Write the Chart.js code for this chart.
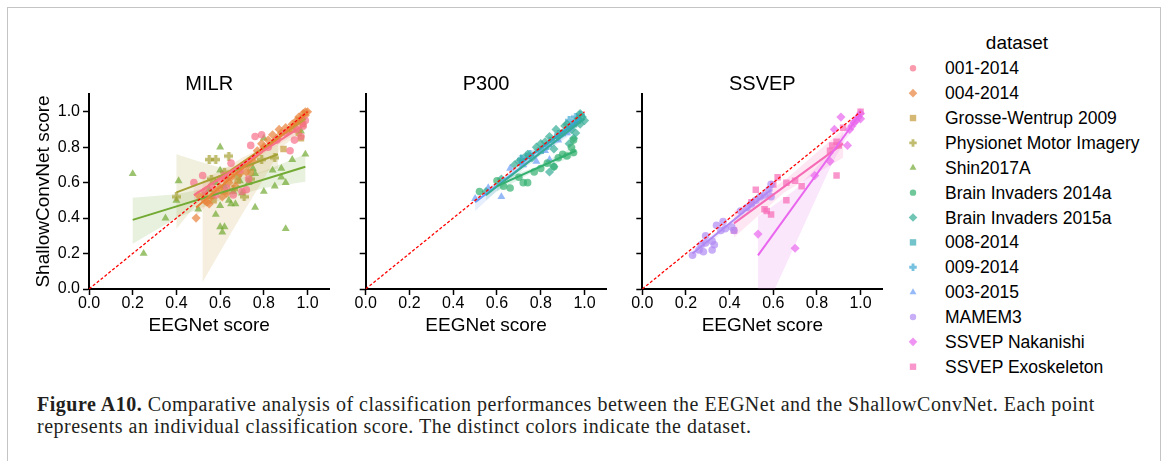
<!DOCTYPE html>
<html>
<head>
<meta charset="utf-8">
<script src="https://cdn.jsdelivr.net/npm/chart.js@4/dist/chart.umd.min.js"></script>
<style>
  html,body{margin:0;padding:0;background:#fff;}
  body{width:1167px;height:461px;overflow:hidden;position:relative;font-family:'Liberation Sans',Arial,sans-serif;color:#000;}
  .frame{position:absolute;left:7px;top:7px;width:1152px;height:480px;border:1px solid #c4c4c4;}
  canvas{position:absolute;}
  .lg-title{position:absolute;left:917px;width:200px;text-align:center;font-size:19px;line-height:22px;}
  .lg-item{position:absolute;left:945px;font-size:17.5px;line-height:20px;white-space:nowrap;}
  .caption{position:absolute;left:37px;top:393px;font-family:'Liberation Serif','Times New Roman',serif;font-size:20px;letter-spacing:0.5px;line-height:22px;color:#231f20;white-space:nowrap;}
</style>
</head>
<body>
<div class="frame"></div>
<canvas id="c1" width="305" height="271" style="left:29px;top:64px"></canvas>
<canvas id="c2" width="265" height="271" style="left:346px;top:64px"></canvas>
<canvas id="c3" width="265" height="271" style="left:622px;top:64px"></canvas>
<div id="legend"></div>
<div class="caption"><b>Figure A10.</b> Comparative analysis of classification performances between the EEGNet and the ShallowConvNet. Each point<br>represents an individual classification score. The distinct colors indicate the dataset.</div>
<script>
// ---------- text ----------
const panelTitles = ['MILR', 'P300', 'SSVEP'];
const xAxisTitle = 'EEGNet score';
const yAxisTitle = 'ShallowConvNet score';
const legendTitle = 'dataset';
const tickValues = [0, 0.2, 0.4, 0.6, 0.8, 1.0];
const tickLabels = ['0.0', '0.2', '0.4', '0.6', '0.8', '1.0'];
const datasetNames = ['001-2014', '004-2014', 'Grosse-Wentrup 2009', 'Physionet Motor Imagery', 'Shin2017A',
  'Brain Invaders 2014a', 'Brain Invaders 2015a', '008-2014', '009-2014', '003-2015', 'MAMEM3',
  'SSVEP Nakanishi', 'SSVEP Exoskeleton'];
const diagonal = [[0, 0], [1, 1]];

// ---------- MILR points [EEGNet, ShallowConvNet] ----------
const milr_001_2014 = [[0.48,0.60],[0.52,0.64],[0.53,0.55],[0.56,0.58],[0.58,0.53],[0.60,0.62],[0.62,0.64],[0.63,0.57],[0.65,0.71],[0.66,0.53],[0.69,0.67],[0.70,0.55],[0.72,0.56],[0.73,0.62],[0.74,0.81],[0.76,0.86],[0.79,0.87],[0.82,0.80],[0.86,0.84],[0.90,0.88],[0.92,0.78],[0.94,0.84],[0.95,0.90],[0.97,0.86],[0.98,0.92],[0.99,0.95]];
const milr_004_2014 = [[0.49,0.40],[0.50,0.53],[0.53,0.50],[0.54,0.49],[0.55,0.48],[0.56,0.52],[0.58,0.55],[0.60,0.57],[0.61,0.52],[0.62,0.62],[0.63,0.54],[0.64,0.60],[0.65,0.63],[0.66,0.66],[0.67,0.58],[0.69,0.65],[0.70,0.69],[0.72,0.66],[0.73,0.70],[0.75,0.72],[0.77,0.78],[0.79,0.82],[0.80,0.80],[0.82,0.84],[0.84,0.87],[0.86,0.85],[0.87,0.90],[0.88,0.88],[0.90,0.91],[0.91,0.89],[0.93,0.93],[0.94,0.92],[0.95,0.95],[0.96,0.97],[0.97,0.96],[0.98,0.99],[0.99,0.98],[1.00,1.00],[0.99,1.00],[0.97,0.94]];
const milr_grosse = [[0.53,0.53],[0.57,0.50],[0.62,0.55],[0.68,0.61],[0.74,0.66],[0.89,0.79],[0.97,0.85],[0.96,0.88],[0.98,0.93],[0.93,0.90]];
const milr_physionet = [[0.40,0.52],[0.55,0.73],[0.58,0.73],[0.64,0.75],[0.71,0.52],[0.74,0.62],[0.79,0.73],[0.56,0.62],[0.62,0.66],[0.68,0.64],[0.66,0.56],[0.85,0.74]];
const milr_shin = [[0.20,0.65],[0.25,0.20],[0.35,0.40],[0.41,0.61],[0.40,0.50],[0.50,0.45],[0.55,0.56],[0.56,0.52],[0.58,0.42],[0.58,0.60],[0.60,0.80],[0.60,0.67],[0.60,0.35],[0.61,0.32],[0.62,0.35],[0.60,0.47],[0.62,0.58],[0.64,0.50],[0.65,0.48],[0.67,0.48],[0.66,0.55],[0.69,0.61],[0.70,0.54],[0.73,0.60],[0.75,0.68],[0.76,0.46],[0.76,0.65],[0.80,0.55],[0.80,0.85],[0.84,0.67],[0.85,0.58],[0.88,0.68],[0.88,0.63],[0.90,0.60],[0.90,0.34],[0.93,0.73],[0.97,0.89],[0.99,0.76],[0.71,0.70],[0.63,0.63]];

// MILR regression lines [[x0,y0],[x1,y1]] and confidence bands [x, low, high]
const milr_fit_001 = [[0.48,0.53],[0.99,0.93]];
const milr_band_001 = [[0.48,0.49,0.57],[0.60,0.60,0.645],[0.75,0.727,0.757],[0.90,0.84,0.878],[0.99,0.90,0.96]];
const milr_fit_004 = [[0.49,0.46],[1.00,0.99]];
const milr_band_004 = [[0.49,0.41,0.51],[0.60,0.55,0.60],[0.75,0.715,0.745],[0.90,0.872,0.90],[1.00,0.97,1.01]];
const milr_fit_grosse = [[0.52,0.56],[0.99,0.96]];
const milr_band_grosse = [[0.52,0.04,0.63],[0.60,0.21,0.66],[0.70,0.42,0.74],[0.80,0.62,0.80],[0.88,0.80,0.89],[0.99,0.90,1.02]];
const milr_fit_physionet = [[0.40,0.545],[0.865,0.76]];
const milr_band_physionet = [[0.40,0.34,0.76],[0.50,0.49,0.72],[0.60,0.57,0.685],[0.70,0.62,0.70],[0.80,0.66,0.77],[0.865,0.68,0.82]];
const milr_fit_shin = [[0.20,0.39],[0.99,0.69]];
const milr_band_shin = [[0.20,0.255,0.515],[0.40,0.40,0.535],[0.60,0.50,0.585],[0.80,0.57,0.665],[0.99,0.605,0.76]];

// ---------- P300 ----------
const p300_bi2014a = [[0.52,0.55],[0.60,0.61],[0.63,0.58],[0.66,0.57],[0.70,0.63],[0.72,0.60],[0.74,0.60],[0.77,0.66],[0.80,0.68],[0.83,0.71],[0.86,0.69],[0.88,0.74],[0.90,0.76],[0.92,0.75],[0.94,0.80],[0.95,0.77],[0.95,0.84]];
const p300_bi2015a = [[0.55,0.55],[0.62,0.62],[0.68,0.70],[0.70,0.72],[0.74,0.76],[0.76,0.74],[0.78,0.80],[0.80,0.82],[0.82,0.83],[0.84,0.86],[0.86,0.79],[0.87,0.90],[0.88,0.86],[0.90,0.88],[0.91,0.92],[0.92,0.93],[0.93,0.82],[0.94,0.90],[0.95,0.85],[0.96,0.88],[0.97,0.96],[0.98,0.99],[0.98,0.93],[0.99,0.97],[1.00,0.95],[0.86,0.69],[0.84,0.66]];
const p300_008 = [[0.72,0.74],[0.80,0.78],[0.85,0.84],[0.90,0.88],[0.95,0.93],[0.97,0.95]];
const p300_009 = [[0.71,0.73],[0.75,0.76],[0.83,0.81],[0.88,0.87],[0.93,0.95],[0.96,0.97],[0.98,0.98]];
const p300_003 = [[0.50,0.51],[0.56,0.57],[0.62,0.52],[0.66,0.68],[0.72,0.70],[0.78,0.72],[0.82,0.78],[0.84,0.73],[0.88,0.84],[0.92,0.88],[0.95,0.93]];
const p300_fit_bi2014a = [[0.60,0.58],[0.96,0.78]];
const p300_band_bi2014a = [[0.60,0.55,0.61],[0.78,0.67,0.69],[0.96,0.75,0.81]];
const p300_fit_bi2015a = [[0.55,0.53],[1.00,0.96]];
const p300_band_bi2015a = [[0.55,0.50,0.56],[0.78,0.735,0.76],[1.00,0.94,0.98]];
const p300_fit_008 = [[0.70,0.71],[0.97,0.94]];
const p300_band_008 = [[0.70,0.68,0.74],[0.85,0.83,0.85],[0.97,0.92,0.96]];
const p300_fit_009 = [[0.70,0.70],[0.98,0.96]];
const p300_band_009 = [[0.70,0.67,0.73],[0.85,0.83,0.85],[0.98,0.935,0.985]];
const p300_fit_003 = [[0.50,0.49],[0.95,0.91]];
const p300_band_003 = [[0.50,0.44,0.52],[0.72,0.69,0.71],[0.95,0.88,0.94]];

// ---------- SSVEP ----------
const ssvep_mamem3 = [[0.23,0.19],[0.26,0.22],[0.28,0.21],[0.27,0.25],[0.29,0.26],[0.29,0.30],[0.32,0.22],[0.32,0.27],[0.33,0.25],[0.34,0.36],[0.36,0.33],[0.37,0.38],[0.38,0.34],[0.41,0.35],[0.42,0.33],[0.45,0.44],[0.48,0.46],[0.50,0.48],[0.52,0.50],[0.54,0.52],[0.56,0.53],[0.59,0.52],[0.59,0.59],[0.58,0.56]];
const ssvep_nakanishi = [[0.53,0.31],[0.70,0.23],[0.79,0.64],[0.86,0.72],[0.88,0.90],[0.91,0.97],[0.94,0.81],[0.95,0.90],[0.96,0.92],[0.97,0.94],[0.99,0.97],[1.00,0.99],[1.00,0.96],[0.98,0.95]];
const ssvep_exo = [[0.42,0.33],[0.50,0.49],[0.52,0.56],[0.56,0.45],[0.57,0.44],[0.59,0.42],[0.60,0.59],[0.62,0.63],[0.66,0.50],[0.66,0.60],[0.70,0.61],[0.73,0.58],[0.86,0.78],[0.87,0.81],[0.89,0.64],[0.89,0.83],[0.92,0.91],[0.90,0.81],[1.00,1.00]];
const ssvep_fit_mamem3 = [[0.23,0.20],[0.59,0.56]];
const ssvep_band_mamem3 = [[0.23,0.17,0.23],[0.40,0.355,0.375],[0.59,0.52,0.60]];
const ssvep_fit_nakanishi = [[0.53,0.19],[1.00,0.99]];
const ssvep_band_nakanishi = [[0.53,-0.40,0.41],[0.60,-0.02,0.47],[0.70,0.25,0.56],[0.80,0.52,0.69],[0.87,0.71,0.80],[0.93,0.84,0.90],[1.00,0.95,1.03]];
const ssvep_fit_exo = [[0.42,0.37],[0.92,0.82]];
const ssvep_band_exo = [[0.42,0.29,0.44],[0.65,0.545,0.61],[0.92,0.74,0.90]];

// ---------- styles ----------
const styles = {
  '001-2014': {color:'#f77189', shape:'circle'},
  '004-2014': {color:'#e8833a', shape:'rectRot'},
  'Grosse-Wentrup 2009': {color:'#c49a3a', shape:'rect'},
  'Physionet Motor Imagery': {color:'#a5a135', shape:'plus'},
  'Shin2017A': {color:'#72aa33', shape:'triangle'},
  'Brain Invaders 2014a': {color:'#33b06f', shape:'circle'},
  'Brain Invaders 2015a': {color:'#35ad95', shape:'rectRot'},
  '008-2014': {color:'#38a9b4', shape:'rect'},
  '009-2014': {color:'#3aa6d2', shape:'plus'},
  '003-2015': {color:'#6a9df5', shape:'triangle'},
  'MAMEM3': {color:'#b08af4', shape:'circle'},
  'SSVEP Nakanishi': {color:'#e967ee', shape:'rectRot'},
  'SSVEP Exoskeleton': {color:'#f66ab6', shape:'rect'}
};
const radii = {circle:3.8, rectRot:4.6, rect:4.6, triangle:4.6, plus:4};

function rgba(hex, a) {
  const n = parseInt(hex.slice(1), 16);
  return `rgba(${(n>>16)&255},${(n>>8)&255},${n&255},${a})`;
}
function plusPath(g, cx, cy, s) {
  const h = s / 2, w = s * 0.19;
  g.beginPath();
  g.moveTo(cx - w, cy - h); g.lineTo(cx + w, cy - h); g.lineTo(cx + w, cy - w);
  g.lineTo(cx + h, cy - w); g.lineTo(cx + h, cy + w); g.lineTo(cx + w, cy + w);
  g.lineTo(cx + w, cy + h); g.lineTo(cx - w, cy + h); g.lineTo(cx - w, cy + w);
  g.lineTo(cx - h, cy + w); g.lineTo(cx - h, cy - w); g.lineTo(cx - w, cy - w);
  g.closePath();
}
function plusImage(color, alpha, size) {
  const c = document.createElement('canvas');
  c.width = size; c.height = size;
  const g = c.getContext('2d');
  g.fillStyle = rgba(color, alpha);
  plusPath(g, size / 2, size / 2, size);
  g.fill();
  return c;
}

const panels = [
  {id:'c1', title:panelTitles[0], showY:true, yw:60, groups:[
    {name:'001-2014', pts:milr_001_2014, fit:milr_fit_001, band:milr_band_001},
    {name:'004-2014', pts:milr_004_2014, fit:milr_fit_004, band:milr_band_004},
    {name:'Grosse-Wentrup 2009', pts:milr_grosse, fit:milr_fit_grosse, band:milr_band_grosse},
    {name:'Physionet Motor Imagery', pts:milr_physionet, fit:milr_fit_physionet, band:milr_band_physionet},
    {name:'Shin2017A', pts:milr_shin, fit:milr_fit_shin, band:milr_band_shin}
  ]},
  {id:'c2', title:panelTitles[1], showY:false, yw:19.7, groups:[
    {name:'Brain Invaders 2014a', pts:p300_bi2014a, fit:p300_fit_bi2014a, band:p300_band_bi2014a},
    {name:'Brain Invaders 2015a', pts:p300_bi2015a, fit:p300_fit_bi2015a, band:p300_band_bi2015a},
    {name:'008-2014', pts:p300_008, fit:p300_fit_008, band:p300_band_008},
    {name:'009-2014', pts:p300_009, fit:p300_fit_009, band:p300_band_009},
    {name:'003-2015', pts:p300_003, fit:p300_fit_003, band:p300_band_003}
  ]},
  {id:'c3', title:panelTitles[2], showY:false, yw:20.3, groups:[
    {name:'MAMEM3', pts:ssvep_mamem3, fit:ssvep_fit_mamem3, band:ssvep_band_mamem3},
    {name:'SSVEP Nakanishi', pts:ssvep_nakanishi, fit:ssvep_fit_nakanishi, band:ssvep_band_nakanishi},
    {name:'SSVEP Exoskeleton', pts:ssvep_exo, fit:ssvep_fit_exo, band:ssvep_band_exo}
  ]}
];

const xy = arr => arr.map(p => ({x:p[0], y:p[1]}));

function buildDatasets(groups) {
  const ds = [{
    data: xy(diagonal), showLine:true, borderColor:'#ff0000', borderWidth:1.3,
    borderDash:[3,2], pointRadius:0, fill:false, order:0
  }];
  groups.forEach(g => {
    const st = styles[g.name];
    const poly = g.band.map(b => ({x:b[0], y:b[2]}))
      .concat(g.band.slice().reverse().map(b => ({x:b[0], y:b[1]})));
    ds.push({data:poly, showLine:true, borderWidth:0, pointRadius:0, fill:'shape',
      backgroundColor:rgba(st.color, 0.16), tension:0, order:30});
    const ps = st.shape === 'plus' ? plusImage(st.color, 0.7, 9) : st.shape;
    ds.push({data:xy(g.pts), showLine:false, pointStyle:ps, pointRadius:radii[st.shape],
      pointBackgroundColor:rgba(st.color, 0.7), backgroundColor:rgba(st.color, 0.7),
      pointBorderWidth:0, borderWidth:0, order:20});
    ds.push({data:xy(g.fit), showLine:true, borderColor:st.color, borderWidth:2,
      pointRadius:0, fill:false, order:10});
  });
  return ds;
}

Chart.defaults.font.family = "'Liberation Sans', Arial, sans-serif";
Chart.defaults.color = '#000';

panels.forEach(p => {
  new Chart(document.getElementById(p.id), {
    type:'scatter',
    data:{datasets:buildDatasets(p.groups)},
    options:{
      responsive:false, animation:false, devicePixelRatio:1,
      layout:{padding:0},
      plugins:{
        legend:{display:false}, tooltip:{enabled:false},
        title:{display:true, text:p.title, fullSize:false, color:'#000',
          font:{size:20, weight:'normal', lineHeight:1}, padding:{top:10, bottom:0}}
      },
      scales:{
        x:{type:'linear', min:0, max:1.1,
          afterBuildTicks:s => { s.ticks = tickValues.map(v => ({value:v})); },
          afterFit:s => { s.height = 46; },
          ticks:{autoSkip:false, maxRotation:0, padding:1, color:'#000',
            font:{size:16, lineHeight:1}, callback:(v, i) => tickLabels[i]},
          grid:{display:true, drawOnChartArea:false, drawTicks:true, tickLength:6, tickWidth:1.5, tickColor:'#000'},
          border:{display:true, color:'#000', width:2},
          title:{display:true, text:xAxisTitle, color:'#000', font:{size:19, lineHeight:1}, padding:0}
        },
        y:{type:'linear', min:0, max:1.1,
          afterBuildTicks:s => { s.ticks = tickValues.map(v => ({value:v})); },
          afterFit:s => { s.width = p.yw; },
          ticks:{display:p.showY, autoSkip:false, padding:3, color:'#000',
            font:{size:16, lineHeight:1}, callback:(v, i) => tickLabels[i]},
          grid:{display:true, drawOnChartArea:false, drawTicks:true, tickLength:6, tickWidth:1.5, tickColor:'#000'},
          border:{display:true, color:'#000', width:2},
          title:{display:p.showY, text:yAxisTitle, color:'#000', font:{size:19, lineHeight:1}, padding:{top:5, bottom:0}}
        }
      }
    }
  });
});

// ---------- legend ----------
const legend = document.getElementById('legend');
const lt = document.createElement('div');
lt.className = 'lg-title'; lt.style.top = (43 - 11) + 'px'; lt.textContent = legendTitle;
legend.appendChild(lt);
function drawMarker(g, shape, color, cx, cy) {
  g.fillStyle = rgba(color, 0.7);
  g.beginPath();
  if (shape === 'circle') { g.arc(cx, cy, 3.2, 0, Math.PI * 2); }
  else if (shape === 'rectRot') { const r = 4.3; g.moveTo(cx, cy - r); g.lineTo(cx + r, cy); g.lineTo(cx, cy + r); g.lineTo(cx - r, cy); g.closePath(); }
  else if (shape === 'rect') { g.rect(cx - 3.2, cy - 3.2, 6.4, 6.4); }
  else if (shape === 'triangle') { const r = 4; g.moveTo(cx, cy - r); g.lineTo(cx + r * 0.866, cy + r / 2); g.lineTo(cx - r * 0.866, cy + r / 2); g.closePath(); }
  else if (shape === 'plus') { plusPath(g, cx, cy, 7.5); }
  g.fill();
}
datasetNames.forEach((name, i) => {
  const y = 68.3 + i * 24.87;
  const st = styles[name];
  const c = document.createElement('canvas');
  c.width = 16; c.height = 16;
  c.style.left = '905px'; c.style.top = Math.round(y - 8) + 'px';
  drawMarker(c.getContext('2d'), st.shape, st.color, 8, 8 + (y - 8 - Math.round(y - 8)));
  legend.appendChild(c);
  const d = document.createElement('div');
  d.className = 'lg-item'; d.style.top = (y - 10) + 'px'; d.textContent = name;
  legend.appendChild(d);
});
</script>
</body>
</html>
